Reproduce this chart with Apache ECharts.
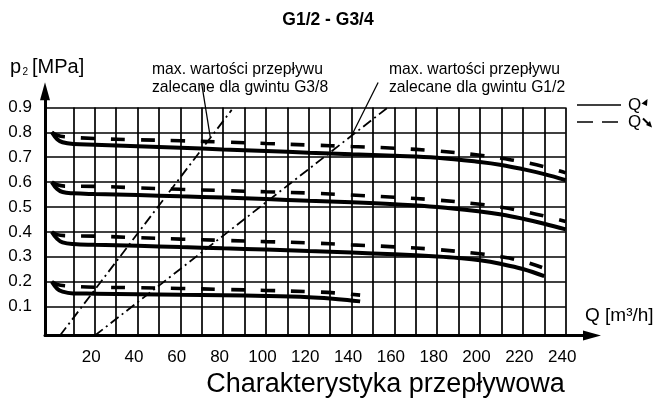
<!DOCTYPE html>
<html>
<head>
<meta charset="utf-8">
<script src="https://cdn.jsdelivr.net/npm/echarts@6/dist/echarts.min.js"></script>
<style>html,body{margin:0;padding:0;background:#fff}#c{width:656px;height:401px}</style>
</head>
<body>
<div id="c"></div>
<script>
// ---- tick labels & grid values ----
const xTickLabels = [20, 40, 60, 80, 100, 120, 140, 160, 180, 200, 220, 240];
const yTickLabels = [0.1, 0.2, 0.3, 0.4, 0.5, 0.6, 0.7, 0.8, 0.9];
const xGridValues = [10,20,30,40,50,60,70,80,90,100,110,120,130,140,150,160,170,180,190,200,210,220,230,240];
const yGridValues = [0.1, 0.2, 0.3, 0.4, 0.5, 0.6, 0.7, 0.8, 0.9];

// ---- characteristic curves [Q m3/h, p2 MPa] ----
// solid = Q increasing, dashed = Q decreasing
const g1Solid = [[0,0.80],[2.5,0.772],[5,0.760],[10,0.753],[20,0.750],[40,0.744],[60,0.738],[80,0.731],[100,0.725],[120,0.718],[140,0.712],[160,0.706],[180,0.698],[200,0.681],[210,0.669],[220,0.652],[230,0.632],[240,0.608]];
const g1Dashed = [[0,0.80],[2.5,0.788],[6,0.782],[20,0.775],[40,0.770],[60,0.766],[80,0.761],[100,0.755],[120,0.749],[140,0.743],[160,0.736],[180,0.725],[200,0.708],[210,0.696],[220,0.681],[230,0.662],[240,0.637]];
const g2Solid = [[0,0.60],[2.5,0.572],[5,0.560],[10,0.555],[20,0.552],[40,0.548],[60,0.543],[80,0.538],[100,0.532],[120,0.525],[140,0.519],[160,0.511],[180,0.500],[200,0.482],[210,0.470],[220,0.453],[230,0.433],[240,0.410]];
const g2Dashed = [[0,0.60],[2.5,0.589],[6,0.584],[20,0.583],[40,0.577],[60,0.571],[80,0.566],[100,0.561],[120,0.556],[140,0.548],[160,0.539],[180,0.528],[200,0.511],[210,0.499],[220,0.483],[230,0.464],[240,0.442]];
const g3Solid = [[0,0.40],[2.5,0.372],[5,0.358],[10,0.351],[20,0.348],[40,0.344],[60,0.339],[80,0.334],[100,0.329],[120,0.323],[140,0.317],[160,0.310],[180,0.301],[190,0.295],[200,0.286],[210,0.271],[220,0.251],[230,0.222]];
const g3Dashed = [[0,0.40],[2.5,0.389],[6,0.385],[20,0.383],[40,0.377],[60,0.371],[80,0.366],[100,0.361],[120,0.356],[140,0.348],[160,0.340],[180,0.329],[200,0.312],[210,0.300],[220,0.282],[229,0.257]];
const g4Solid = [[0,0.20],[2.5,0.172],[5,0.160],[10,0.153],[20,0.152],[40,0.150],[60,0.148],[80,0.146],[100,0.143],[120,0.138],[130,0.133],[138,0.127],[144,0.121]];
const g4Dashed = [[0,0.20],[2.5,0.189],[6,0.184],[20,0.178],[40,0.176],[60,0.173],[80,0.169],[100,0.165],[120,0.160],[132,0.155],[144,0.146]];

// ---- recommended max flow lines (dash-dot) ----
const limitG38 = [[3.8,-0.016],[84,0.89]];
const limitG12 = [[20.1,-0.016],[157,0.9]];
// leader lines from the notes to the limit lines
const leaderG38 = [[70,0.995],[74,0.78]];
const leaderG12 = [[152.4,1.0],[140.2,0.79]];

const X_MIN = -3.2, X_MAX = 252.3, Y_MIN = -0.016, Y_MAX = 0.965;
const FONT = '"Liberation Sans", Arial, Helvetica, sans-serif';

const gridLines = [];
xGridValues.forEach(v => gridLines.push({coords: [[v, Y_MIN], [v, 0.9]]}));
yGridValues.forEach(v => gridLines.push({coords: [[X_MIN, v], [240, v]]}));

function curve(data, dashed) {
  return {
    type: 'line', data: data, smooth: 0.4,
    showSymbol: false, symbol: 'none', silent: true, z: 3,
    lineStyle: dashed
      ? {color: '#000', width: 3.6, type: [14, 16], cap: 'butt'}
      : {color: '#000', width: 4, cap: 'butt'}
  };
}
function thin(data, type, width) {
  return {type: 'line', data: data, showSymbol: false, symbol: 'none', silent: true, clip: false, z: 4,
    lineStyle: {color: '#000', width: width, type: type}};
}

const chart = echarts.init(document.getElementById('c'), null, {renderer: 'canvas'});
chart.setOption({
  animation: false,
  backgroundColor: '#fff',
  grid: {left: 45, right: 64, top: 91.2, bottom: 65.5, containLabel: false},
  xAxis: {
    type: 'value', min: X_MIN, max: X_MAX,
    axisLine: {show: true, onZero: false, symbol: ['none', 'triangle'], symbolSize: [10, 18],
      lineStyle: {color: '#000', width: 3}},
    axisTick: {show: false}, splitLine: {show: false},
    axisLabel: {customValues: xTickLabels, color: '#000', fontSize: 17, fontFamily: FONT, margin: 13,
      padding: [0, 7, 0, 0]}
  },
  yAxis: {
    type: 'value', min: Y_MIN, max: Y_MAX,
    axisLine: {show: true, onZero: false, symbol: ['none', 'triangle'], symbolSize: [10, 18],
      lineStyle: {color: '#000', width: 3}},
    axisTick: {show: false}, splitLine: {show: false},
    axisLabel: {customValues: yTickLabels, formatter: v => v.toFixed(1), color: '#000', fontSize: 17,
      fontFamily: FONT, margin: 13}
  },
  series: [
    {type: 'lines', coordinateSystem: 'cartesian2d', polyline: false, silent: true, z: 1,
     lineStyle: {color: '#000', width: 1.7, opacity: 1, curveness: 0}, data: gridLines},
    curve(g1Solid, false), curve(g1Dashed, true),
    curve(g2Solid, false), curve(g2Dashed, true),
    curve(g3Solid, false), curve(g3Dashed, true),
    curve(g4Solid, false), curve(g4Dashed, true),
    thin(limitG38, [10, 4, 2, 4], 1.8), thin(limitG12, [10, 4, 2, 4], 1.8),
    thin(leaderG38, 'solid', 1.3), thin(leaderG12, 'solid', 1.3)
  ],
  graphic: [
    {type: 'text', x: 328, y: 20, style: {text: 'G1/2 - G3/4', font: 'bold 17.5px ' + FONT, fill: '#000', align: 'center', verticalAlign: 'middle'}},
    {type: 'text', x: 10, y: 67, style: {text: 'p', font: '20px ' + FONT, fill: '#000', verticalAlign: 'middle'}},
    {type: 'text', x: 22.5, y: 72.5, style: {text: '2', font: '10px ' + FONT, fill: '#000', verticalAlign: 'middle'}},
    {type: 'text', x: 32, y: 67, style: {text: '[MPa]', font: '20px ' + FONT, fill: '#000', verticalAlign: 'middle'}},
    {type: 'text', x: 585, y: 316, style: {text: 'Q [m³/h]', font: '19px ' + FONT, fill: '#000', verticalAlign: 'middle'}},
    {type: 'text', x: 385.5, y: 385, style: {text: 'Charakterystyka przepływowa', font: '27px ' + FONT, fill: '#000', align: 'center', verticalAlign: 'middle'}},
    {type: 'text', x: 152, y: 70, style: {text: 'max. wartości przepływu', font: '15.7px ' + FONT, fill: '#000', verticalAlign: 'middle'}},
    {type: 'text', x: 152, y: 88, style: {text: 'zalecane dla gwintu G3/8', font: '15.7px ' + FONT, fill: '#000', verticalAlign: 'middle'}},
    {type: 'text', x: 389, y: 70, style: {text: 'max. wartości przepływu', font: '15.7px ' + FONT, fill: '#000', verticalAlign: 'middle'}},
    {type: 'text', x: 389, y: 88, style: {text: 'zalecane dla gwintu G1/2', font: '15.7px ' + FONT, fill: '#000', verticalAlign: 'middle'}},
    // legend
    {type: 'line', shape: {x1: 577, y1: 105, x2: 621, y2: 105}, style: {stroke: '#000', lineWidth: 1.6}},
    {type: 'line', shape: {x1: 577, y1: 122, x2: 619, y2: 122}, style: {stroke: '#000', lineWidth: 1.6, lineDash: [16, 9]}},
    {type: 'text', x: 628, y: 105, style: {text: 'Q', font: '17px ' + FONT, fill: '#000', verticalAlign: 'middle'}},
    {type: 'text', x: 628, y: 122, style: {text: 'Q', font: '17px ' + FONT, fill: '#000', verticalAlign: 'middle'}},
    {type: 'polygon', shape: {points: [[641.5, 103.5], [647.5, 99], [647, 106]]}, style: {fill: '#000'}},
    {type: 'line', shape: {x1: 643, y1: 118.5, x2: 648.5, y2: 124}, style: {stroke: '#000', lineWidth: 2}},
    {type: 'polygon', shape: {points: [[646, 125], [652, 127.5], [650, 121]]}, style: {fill: '#000'}}
  ]
});
</script>
</body>
</html>
